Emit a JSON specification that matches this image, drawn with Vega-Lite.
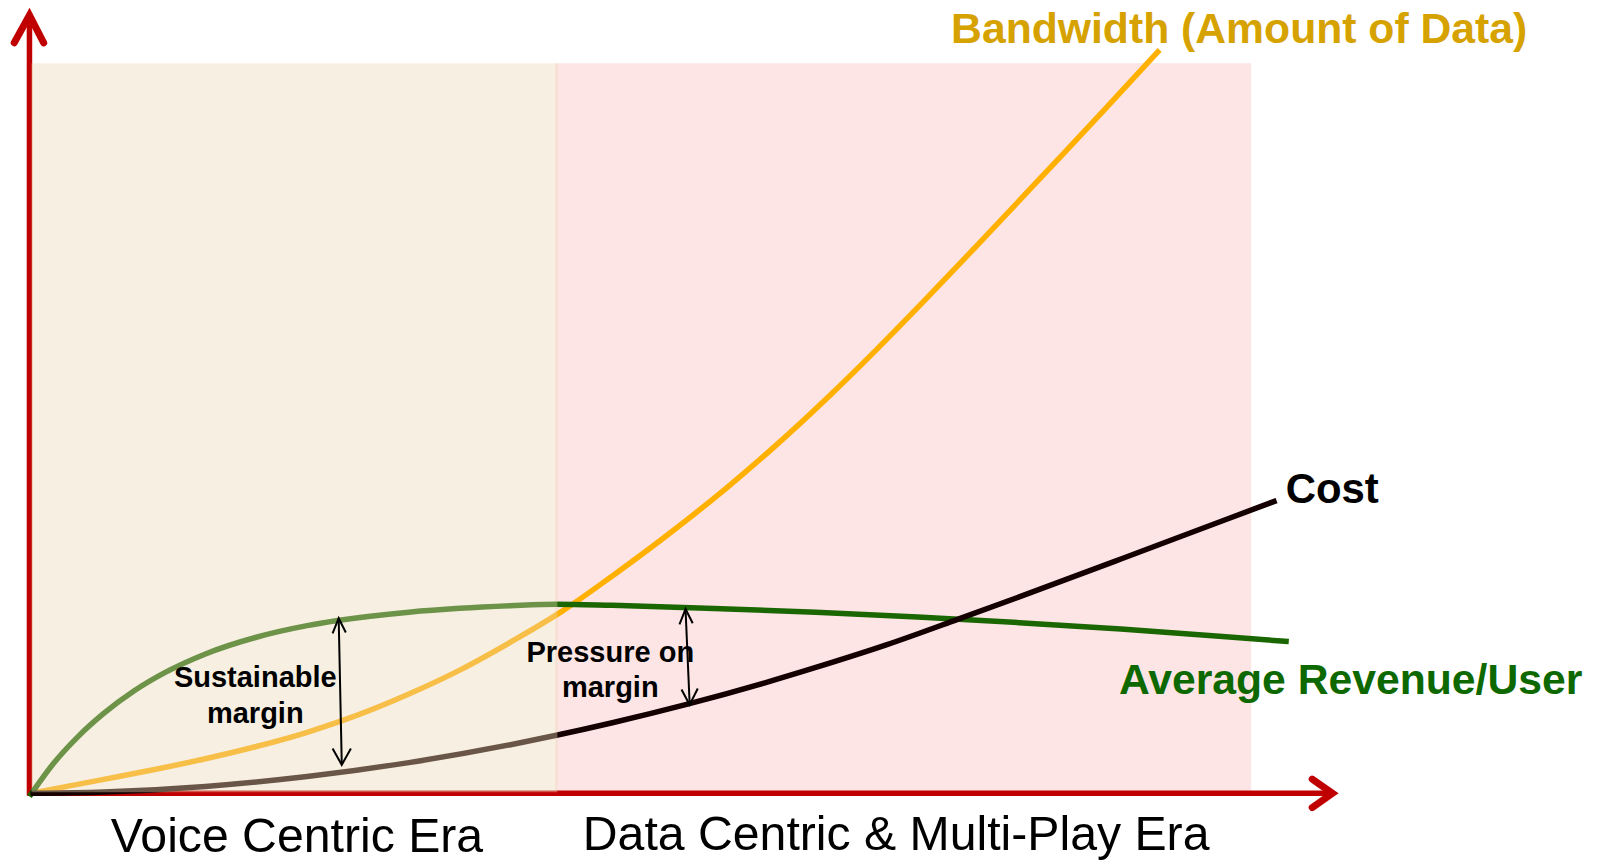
{
  "$schema": "https://vega.github.io/schema/vega-lite/v6.json",
  "width": 1597,
  "height": 862,
  "padding": 0,
  "autosize": {"type": "fit", "contains": "padding"},
  "background": "white",
  "config": {"view": {"stroke": null}, "font": "Liberation Sans"},
  "encoding": {
    "x": {"field": "x", "type": "quantitative", "scale": {"domain": [0, 1568], "nice": false, "zero": false}, "axis": null},
    "y": {"field": "y", "type": "quantitative", "scale": {"domain": [0, 846.4], "nice": false, "zero": false, "reverse": true}, "axis": null}
  },
  "layer": [
    {
      "data": {"values": [{"x": 544, "x2": 1228, "y": 62, "y2": 778}]},
      "mark": {"type": "rect", "color": "#fde5e5"},
      "encoding": {"x2": {"field": "x2"}, "y2": {"field": "y2"}}
    },
    {
      "data": {"values": [
        {"id": "yaxis", "o": 1, "x": 27, "y": 781},
        {"id": "yaxis", "o": 2, "x": 27, "y": 18},
        {"id": "xaxis", "o": 1, "x": 25, "y": 779},
        {"id": "xaxis", "o": 2, "x": 1305, "y": 779}
      ]},
      "mark": {"type": "line", "color": "#c00000", "strokeWidth": 5.5},
      "encoding": {"detail": {"field": "id"}, "order": {"field": "o"}}
    },
    {
      "data": {"values": [
        {"id": "yhead", "o": 1, "x": 12, "y": 42},
        {"id": "yhead", "o": 2, "x": 27, "y": 15},
        {"id": "yhead", "o": 3, "x": 41, "y": 42},
        {"id": "xhead", "o": 1, "x": 1288, "y": 765},
        {"id": "xhead", "o": 2, "x": 1308, "y": 779},
        {"id": "xhead", "o": 3, "x": 1288, "y": 793}
      ]},
      "mark": {"type": "line", "color": "#c00000", "strokeWidth": 7, "strokeCap": "round", "strokeJoin": "miter"},
      "encoding": {"detail": {"field": "id"}, "order": {"field": "o"}}
    },
    {
      "data": {"values": [
        {"series": "Bandwidth", "o": 1, "x": 28, "y": 779},
        {"series": "Bandwidth", "o": 2, "x": 100, "y": 765.3},
        {"series": "Bandwidth", "o": 3, "x": 150, "y": 755.6},
        {"series": "Bandwidth", "o": 4, "x": 200, "y": 745},
        {"series": "Bandwidth", "o": 5, "x": 250, "y": 733},
        {"series": "Bandwidth", "o": 6, "x": 300, "y": 719},
        {"series": "Bandwidth", "o": 7, "x": 350, "y": 702},
        {"series": "Bandwidth", "o": 8, "x": 400, "y": 681.5},
        {"series": "Bandwidth", "o": 9, "x": 450, "y": 658},
        {"series": "Bandwidth", "o": 10, "x": 500, "y": 630.5},
        {"series": "Bandwidth", "o": 11, "x": 550, "y": 600.6},
        {"series": "Bandwidth", "o": 12, "x": 600, "y": 565.5},
        {"series": "Bandwidth", "o": 13, "x": 650, "y": 528.5},
        {"series": "Bandwidth", "o": 14, "x": 713, "y": 478.5},
        {"series": "Bandwidth", "o": 15, "x": 760, "y": 438},
        {"series": "Bandwidth", "o": 16, "x": 812, "y": 390},
        {"series": "Bandwidth", "o": 17, "x": 860, "y": 343},
        {"series": "Bandwidth", "o": 18, "x": 907, "y": 295},
        {"series": "Bandwidth", "o": 19, "x": 960, "y": 239.5},
        {"series": "Bandwidth", "o": 20, "x": 1031, "y": 164},
        {"series": "Bandwidth", "o": 21, "x": 1085, "y": 106.5},
        {"series": "Bandwidth", "o": 22, "x": 1138, "y": 49},
        {"series": "ARPU", "o": 1, "x": 27, "y": 782},
        {"series": "ARPU", "o": 2, "x": 50, "y": 750.4},
        {"series": "ARPU", "o": 3, "x": 75, "y": 723},
        {"series": "ARPU", "o": 4, "x": 100, "y": 700.5},
        {"series": "ARPU", "o": 5, "x": 130, "y": 678.3},
        {"series": "ARPU", "o": 6, "x": 160, "y": 660.5},
        {"series": "ARPU", "o": 7, "x": 200, "y": 642.1},
        {"series": "ARPU", "o": 8, "x": 250, "y": 625.7},
        {"series": "ARPU", "o": 9, "x": 300, "y": 614.3},
        {"series": "ARPU", "o": 10, "x": 330, "y": 609.3},
        {"series": "ARPU", "o": 11, "x": 400, "y": 601.1},
        {"series": "ARPU", "o": 12, "x": 450, "y": 597.3},
        {"series": "ARPU", "o": 13, "x": 500, "y": 594.8},
        {"series": "ARPU", "o": 14, "x": 545, "y": 593.3},
        {"series": "ARPU", "o": 15, "x": 600, "y": 594.4},
        {"series": "ARPU", "o": 16, "x": 700, "y": 597.4},
        {"series": "ARPU", "o": 17, "x": 800, "y": 601.2},
        {"series": "ARPU", "o": 18, "x": 900, "y": 605.9},
        {"series": "ARPU", "o": 19, "x": 1000, "y": 611.4},
        {"series": "ARPU", "o": 20, "x": 1100, "y": 617.7},
        {"series": "ARPU", "o": 21, "x": 1200, "y": 624.9},
        {"series": "ARPU", "o": 22, "x": 1265, "y": 630},
        {"series": "Cost", "o": 1, "x": 28, "y": 779},
        {"series": "Cost", "o": 2, "x": 100, "y": 777.7},
        {"series": "Cost", "o": 3, "x": 200, "y": 772.2},
        {"series": "Cost", "o": 4, "x": 300, "y": 762.5},
        {"series": "Cost", "o": 5, "x": 400, "y": 748.8},
        {"series": "Cost", "o": 6, "x": 500, "y": 731.2},
        {"series": "Cost", "o": 7, "x": 545, "y": 722},
        {"series": "Cost", "o": 8, "x": 600, "y": 709.7},
        {"series": "Cost", "o": 9, "x": 673, "y": 691.7},
        {"series": "Cost", "o": 10, "x": 750, "y": 670.5},
        {"series": "Cost", "o": 11, "x": 800, "y": 655.4},
        {"series": "Cost", "o": 12, "x": 870, "y": 633},
        {"series": "Cost", "o": 13, "x": 940, "y": 608},
        {"series": "Cost", "o": 14, "x": 1000, "y": 586.1},
        {"series": "Cost", "o": 15, "x": 1100, "y": 548.9},
        {"series": "Cost", "o": 16, "x": 1200, "y": 511.3},
        {"series": "Cost", "o": 17, "x": 1253, "y": 491.5}
      ]},
      "mark": {"type": "line", "strokeWidth": 5.5, "interpolate": "monotone"},
      "encoding": {
        "color": {"field": "series", "type": "nominal", "scale": {"domain": ["Bandwidth", "ARPU", "Cost"], "range": ["#ffb000", "#1a6600", "#140000"]}, "legend": null},
        "order": {"field": "o"}
      }
    },
    {
      "data": {"values": [{"x": 29, "x2": 546, "y": 62, "y2": 778}]},
      "mark": {"type": "rect", "color": "#ecd8b4", "opacity": 0.4},
      "encoding": {"x2": {"field": "x2"}, "y2": {"field": "y2"}}
    },
    {
      "data": {"values": [
        {"id": "s", "o": 1, "x": 331, "y": 608},
        {"id": "s", "o": 2, "x": 334, "y": 750},
        {"id": "st", "o": 1, "x": 325, "y": 622},
        {"id": "st", "o": 2, "x": 331, "y": 607},
        {"id": "st", "o": 3, "x": 338, "y": 621},
        {"id": "sb", "o": 1, "x": 325, "y": 735},
        {"id": "sb", "o": 2, "x": 334, "y": 751},
        {"id": "sb", "o": 3, "x": 343, "y": 735},
        {"id": "p", "o": 1, "x": 672, "y": 599},
        {"id": "p", "o": 2, "x": 676, "y": 691},
        {"id": "pt", "o": 1, "x": 666, "y": 613},
        {"id": "pt", "o": 2, "x": 672, "y": 598},
        {"id": "pt", "o": 3, "x": 679, "y": 612},
        {"id": "pb", "o": 1, "x": 668, "y": 677},
        {"id": "pb", "o": 2, "x": 676, "y": 692},
        {"id": "pb", "o": 3, "x": 684, "y": 676}
      ]},
      "mark": {"type": "line", "color": "#000000", "strokeWidth": 2},
      "encoding": {"detail": {"field": "id"}, "order": {"field": "o"}}
    },
    {
      "data": {"values": [
        {"t": "Sustainable", "x": 249, "y": 666},
        {"t": "margin", "x": 249, "y": 701},
        {"t": "Pressure on", "x": 598, "y": 641},
        {"t": "margin", "x": 598, "y": 676}
      ]},
      "mark": {"type": "text", "fontSize": 29, "fontWeight": "bold", "color": "#000000", "align": "center", "baseline": "middle"},
      "encoding": {"text": {"field": "t"}}
    },
    {
      "data": {"values": [
        {"t": "Voice Centric Era", "x": 290, "y": 823},
        {"t": "Data Centric & Multi-Play Era", "x": 879, "y": 821}
      ]},
      "mark": {"type": "text", "fontSize": 48.2, "color": "#000000", "align": "center", "baseline": "middle"},
      "encoding": {"text": {"field": "t"}}
    },
    {
      "data": {"values": [{"t": "Bandwidth (Amount of Data)", "x": 933, "y": 29}]},
      "mark": {"type": "text", "fontSize": 42.7, "fontWeight": "bold", "color": "#d6a200", "align": "left", "baseline": "middle"},
      "encoding": {"text": {"field": "t"}}
    },
    {
      "data": {"values": [{"t": "Cost", "x": 1262, "y": 481}]},
      "mark": {"type": "text", "fontSize": 41.9, "fontWeight": "bold", "color": "#000000", "align": "left", "baseline": "middle"},
      "encoding": {"text": {"field": "t"}}
    },
    {
      "data": {"values": [{"t": "Average Revenue/User", "x": 1098, "y": 669}]},
      "mark": {"type": "text", "fontSize": 42.7, "fontWeight": "bold", "color": "#0d6800", "align": "left", "baseline": "middle"},
      "encoding": {"text": {"field": "t"}}
    }
  ]
}
